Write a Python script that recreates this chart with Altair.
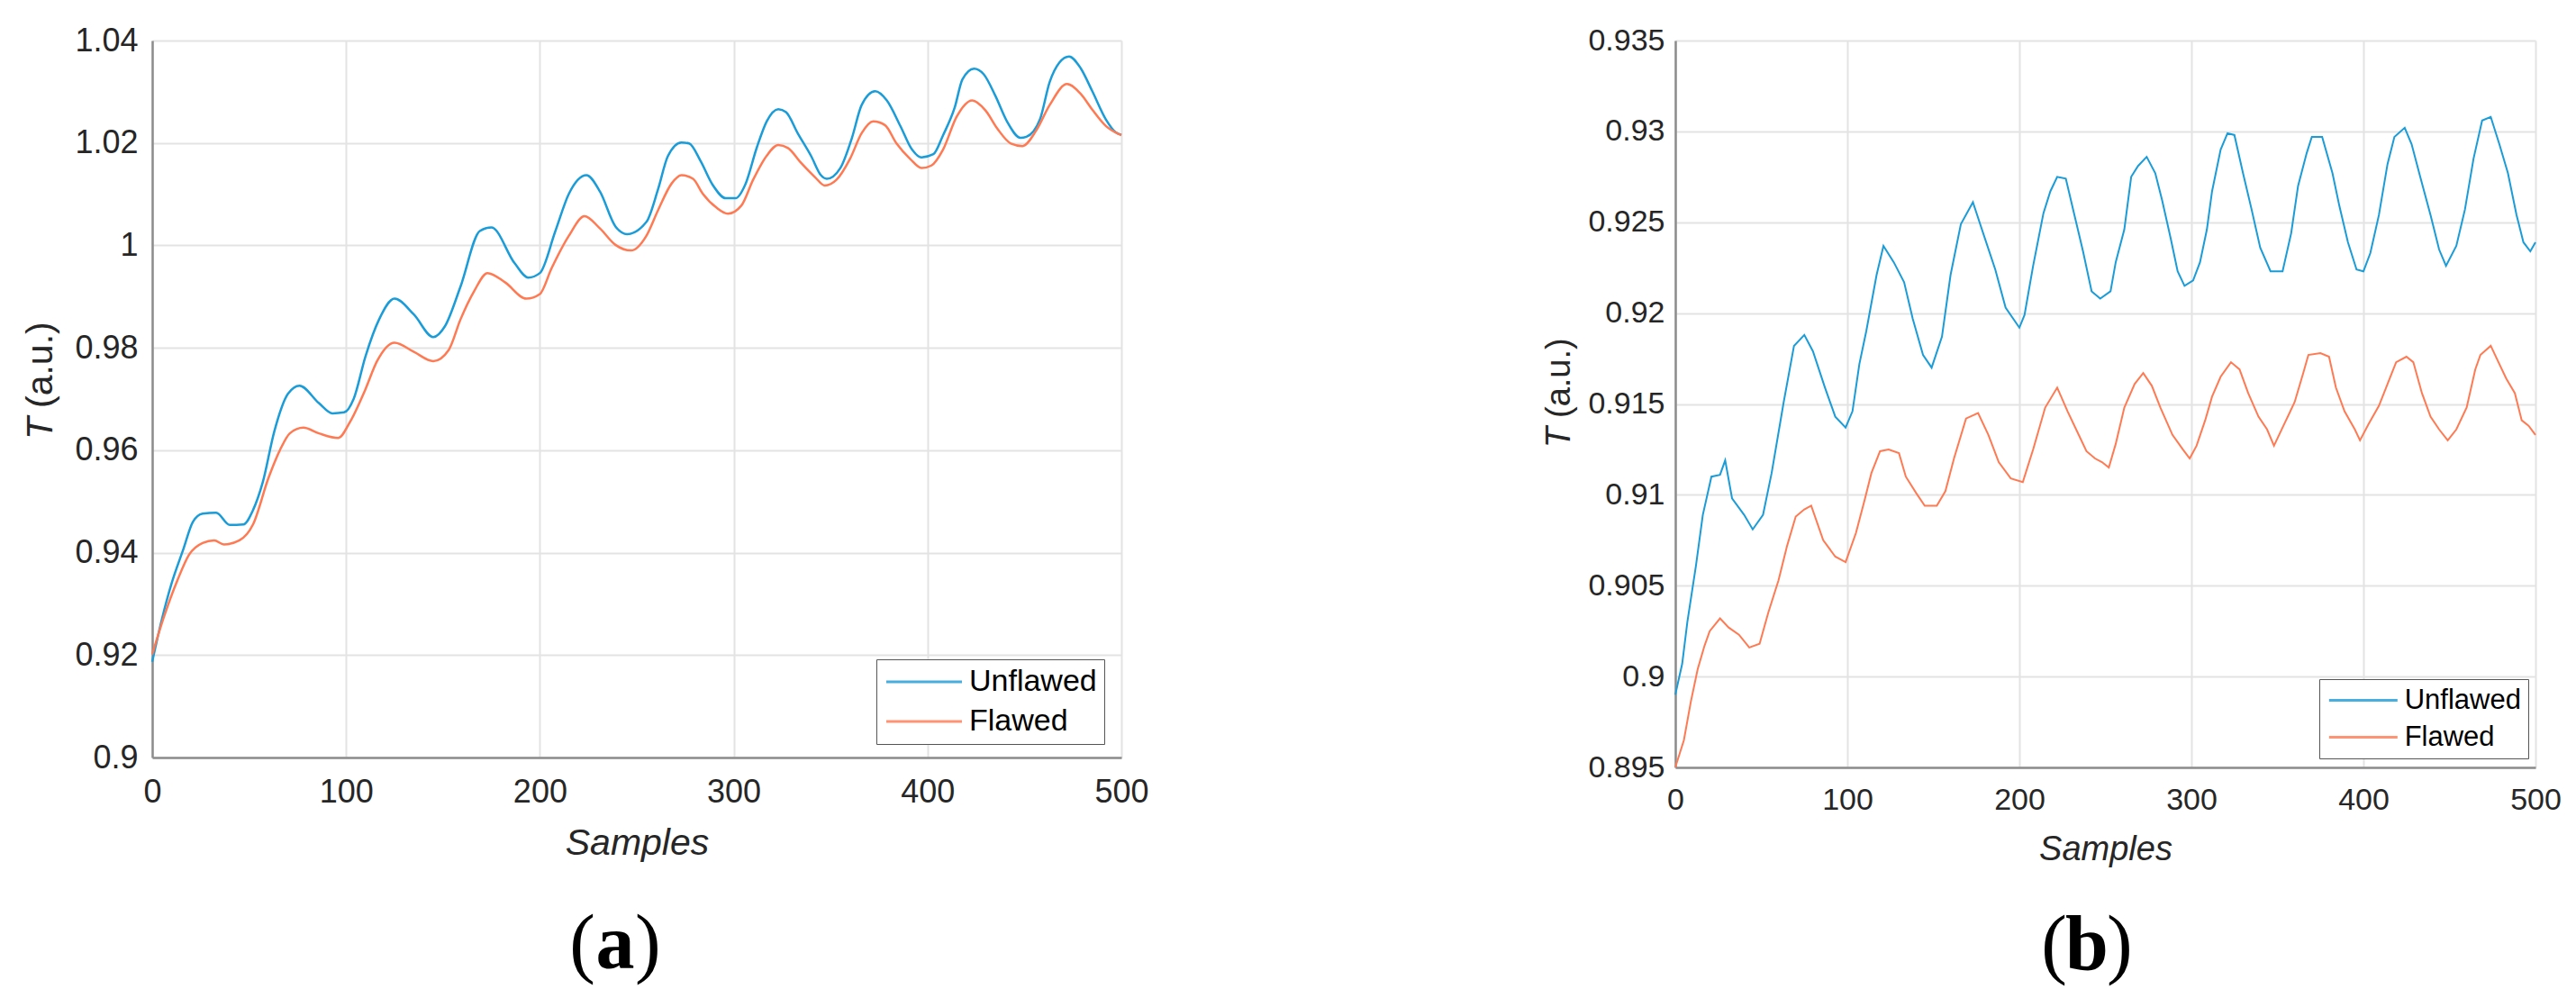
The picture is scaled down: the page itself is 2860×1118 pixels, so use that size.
import altair as alt
import pandas as pd

BLUE = "#1A9CD8"
ORANGE = "#FF7A52"
SERIES = ["Unflawed", "Flawed"]
X_TICKS = [0, 100, 200, 300, 400, 500]
A_Y_TICKS = [0.90, 0.92, 0.94, 0.96, 0.98, 1.00, 1.02, 1.04]
B_Y_TICKS = [0.895, 0.900, 0.905, 0.910, 0.915, 0.920, 0.925, 0.930, 0.935]

# panel (a)
a_unflawed = [
    (0, 0.9187), (5, 0.927), (10, 0.934), (16, 0.9406), (21, 0.946), (26, 0.9476), (33, 0.9478),
    (40, 0.9454), (47, 0.9455), (52, 0.9483), (57, 0.9537), (63, 0.9637), (70, 0.971), (76, 0.9726),
    (86, 0.9692), (93, 0.9672), (99, 0.9674), (104, 0.9701), (110, 0.9783), (117, 0.9855),
    (125, 0.9896), (135, 0.9865), (145, 0.9821), (151, 0.9842), (159, 0.9919), (169, 1.0028),
    (175, 1.0035), (187, 0.9965), (194, 0.9937), (200, 0.9946), (208, 1.0028), (215, 1.0101),
    (224, 1.0137), (231, 1.0105), (239, 1.0037), (245, 1.0022), (255, 1.0046), (261, 1.011),
    (266, 1.0174), (273, 1.0201), (277, 1.0199), (283, 1.0164), (289, 1.0119), (296, 1.0092),
    (301, 1.0092), (306, 1.0119), (312, 1.0192), (317, 1.0242), (323, 1.0266), (327, 1.026),
    (333, 1.0219), (340, 1.0174), (345, 1.0137), (348, 1.013), (355, 1.0151), (361, 1.021),
    (366, 1.0274), (373, 1.0301), (379, 1.0283), (386, 1.0233), (392, 1.0187), (397, 1.0172),
    (403, 1.0178), (408, 1.0215), (414, 1.0269), (418, 1.0324), (424, 1.0345), (429, 1.0334),
    (435, 1.0292), (441, 1.0242), (448, 1.021), (451, 1.0212), (458, 1.0246), (463, 1.0319),
    (468, 1.0357), (473, 1.0369), (479, 1.0346), (485, 1.0301), (492, 1.0246), (497, 1.0221),
    (500, 1.0216),
]
a_flawed = [
    (0, 0.9201), (6, 0.9274), (13, 0.9346), (19, 0.9396), (26, 0.9419), (32, 0.9424), (37, 0.9416),
    (45, 0.9424), (52, 0.9455), (60, 0.9546), (66, 0.9601), (71, 0.9633), (78, 0.9644), (86, 0.9633),
    (96, 0.9624), (102, 0.9655), (110, 0.9719), (116, 0.9774), (125, 0.981), (135, 0.9792),
    (145, 0.9774), (153, 0.9796), (159, 0.9855), (166, 0.991), (173, 0.9946), (182, 0.9928),
    (193, 0.9896), (200, 0.9905), (206, 0.9955), (215, 1.0019), (223, 1.0057), (231, 1.0033),
    (239, 1.0001), (247, 0.999), (255, 1.0019), (261, 1.0069), (268, 1.0121), (273, 1.0137),
    (279, 1.013), (284, 1.0101), (291, 1.0074), (297, 1.0062), (304, 1.0078), (310, 1.0128),
    (317, 1.0175), (323, 1.0196), (328, 1.019), (335, 1.016), (342, 1.0133), (347, 1.0117),
    (353, 1.0128), (360, 1.0169), (366, 1.0219), (372, 1.0242), (378, 1.0235), (384, 1.0199),
    (391, 1.0169), (397, 1.0151), (402, 1.0156), (408, 1.0187), (415, 1.0251), (423, 1.0283),
    (430, 1.0263), (436, 1.0228), (443, 1.0199), (449, 1.0194), (456, 1.0224), (463, 1.0274),
    (472, 1.0315), (479, 1.0296), (485, 1.0265), (492, 1.0233), (500, 1.0215),
]

# panel (b)
b_unflawed = [
    (0, 0.8990), (4, 0.9007), (7, 0.9030), (12, 0.9061), (16, 0.9089), (21, 0.9110), (26, 0.9111),
    (29, 0.9119), (33, 0.9098), (40, 0.9089), (45, 0.9081), (51, 0.9089), (56, 0.9112), (63, 0.9151),
    (69, 0.9182), (75, 0.9188), (80, 0.9179), (87, 0.9159), (93, 0.9143), (99, 0.9137), (103, 0.9146),
    (107, 0.9172), (111, 0.9190), (117, 0.9221), (121, 0.9237), (127, 0.9228), (133, 0.9217),
    (138, 0.9197), (144, 0.9177), (149, 0.9170), (155, 0.9187), (160, 0.9221), (166, 0.9249),
    (173, 0.9261), (180, 0.9241), (186, 0.9224), (192, 0.9203), (200, 0.9192), (203, 0.9199),
    (208, 0.9226), (214, 0.9255), (218, 0.9267), (222, 0.9275), (227, 0.9274), (232, 0.9254),
    (237, 0.9234), (242, 0.9212), (247, 0.9208), (253, 0.9212), (256, 0.9228), (261, 0.9246),
    (265, 0.9275), (269, 0.9281), (274, 0.9286), (279, 0.9277), (283, 0.9262), (288, 0.9241),
    (292, 0.9223), (296, 0.9215), (301, 0.9218), (305, 0.9228), (309, 0.9246), (312, 0.9267),
    (317, 0.9290), (321, 0.9299), (325, 0.9298), (330, 0.9277), (335, 0.9257), (340, 0.9236),
    (346, 0.9223), (353, 0.9223), (358, 0.9244), (362, 0.9270), (367, 0.9288), (370, 0.9297),
    (376, 0.9297), (382, 0.9277), (386, 0.9259), (391, 0.9239), (396, 0.9224), (400, 0.9223),
    (404, 0.9233), (409, 0.9254), (414, 0.9282), (418, 0.9297), (424, 0.9302), (428, 0.9293),
    (433, 0.9275), (439, 0.9254), (444, 0.9235), (448, 0.9226), (454, 0.9237), (459, 0.9257),
    (464, 0.9285), (469, 0.9306), (474, 0.9308), (479, 0.9293), (484, 0.9277), (489, 0.9254),
    (493, 0.9239), (497, 0.9234), (500, 0.9239),
]
b_flawed = [
    (0, 0.8950), (5, 0.8965), (9, 0.8986), (13, 0.9004), (17, 0.9017), (20, 0.9025), (26, 0.9032),
    (31, 0.9027), (37, 0.9023), (43, 0.9016), (49, 0.9018), (54, 0.9035), (60, 0.9053), (65, 0.9072),
    (70, 0.9088), (75, 0.9092), (79, 0.9094), (86, 0.9075), (93, 0.9066), (99, 0.9063), (105, 0.9079),
    (110, 0.9097), (114, 0.9112), (119, 0.9124), (124, 0.9125), (130, 0.9123), (134, 0.9110),
    (140, 0.9101), (145, 0.9094), (152, 0.9094), (157, 0.9102), (162, 0.9120), (169, 0.9142),
    (176, 0.9145), (182, 0.9133), (188, 0.9118), (195, 0.9109), (202, 0.9107), (208, 0.9125),
    (215, 0.9148), (222, 0.9159), (228, 0.9146), (234, 0.9134), (239, 0.9124), (244, 0.9120),
    (248, 0.9118), (252, 0.9115), (256, 0.9128), (261, 0.9148), (267, 0.9161), (272, 0.9167),
    (277, 0.9160), (282, 0.9148), (289, 0.9133), (295, 0.9125), (299, 0.9120), (303, 0.9127),
    (308, 0.9141), (312, 0.9154), (317, 0.9165), (323, 0.9173), (328, 0.9169), (333, 0.9156),
    (339, 0.9143), (344, 0.9136), (348, 0.9127), (354, 0.9139), (360, 0.9151), (365, 0.9167),
    (368, 0.9177), (375, 0.9178), (380, 0.9176), (384, 0.9159), (389, 0.9146), (395, 0.9136),
    (398, 0.9130), (403, 0.9139), (409, 0.9149), (414, 0.9161), (419, 0.9173), (425, 0.9176),
    (429, 0.9173), (434, 0.9156), (439, 0.9143), (444, 0.9136), (449, 0.9130), (454, 0.9136),
    (460, 0.9148), (465, 0.9169), (468, 0.9177), (474, 0.9182), (478, 0.9174), (483, 0.9164),
    (488, 0.9156), (492, 0.9141), (496, 0.9138), (500, 0.9133),
]

SANS = "Liberation Sans"
SERIF = "Liberation Serif"
DARK = "#262626"


def frame(unfl, fl):
    rows = [{"Samples": s, "T": v, "series": "Unflawed"} for s, v in unfl]
    rows += [{"Samples": s, "T": v, "series": "Flawed"} for s, v in fl]
    return pd.DataFrame(rows)


def txt(text, x, y, **kw):
    return alt.Chart(pd.DataFrame({"k": [0]})).mark_text(text=text, **kw).encode(
        x=alt.value(x), y=alt.value(y)
    )


def panel(df, w, h, ydom, yticks, tick_fs, title_fs, leg_fs, leg_x, leg_y, sym_len, row_pad,
          stroke_w, interp, ytitle_x, ytitle_y, letter, letter_x, letter_y, lab_pad_x,
          title_pad_x, lab_pad_y):
    unit = sym_len / 3.0  # symbol path spans 3 * sqrt(size)
    lines = alt.Chart(df).mark_line(strokeWidth=stroke_w, interpolate=interp).encode(
        x=alt.X(
            "Samples:Q",
            scale=alt.Scale(domain=[0, 500], nice=False),
            axis=alt.Axis(
                values=X_TICKS, format="d", title="Samples", titleFontStyle="italic",
                titleFont=SANS, titleFontSize=title_fs, titleFontWeight="normal", titleColor=DARK,
                titlePadding=title_pad_x, labelFont=SANS, labelFontSize=tick_fs, labelColor=DARK,
                labelPadding=lab_pad_x, ticks=False, tickSize=0, domainColor="#8c8c8c",
                domainWidth=2.5, gridColor="#e3e3e3", gridWidth=2, labelFlush=False,
            ),
        ),
        y=alt.Y(
            "T:Q",
            scale=alt.Scale(domain=ydom, zero=False, nice=False),
            axis=alt.Axis(
                values=yticks, format=".3~g", title=None, labelFont=SANS, labelFontSize=tick_fs,
                labelColor=DARK, labelPadding=lab_pad_y, ticks=False, tickSize=0,
                domainColor="#8c8c8c", domainWidth=2.5, gridColor="#e3e3e3", gridWidth=2,
                labelFlush=False,
            ),
        ),
        color=alt.Color(
            "series:N",
            scale=alt.Scale(domain=SERIES, range=[BLUE, ORANGE]),
            legend=alt.Legend(
                title=None, orient="none", legendX=leg_x, legendY=leg_y,
                symbolType="M-1,0H5", symbolSize=unit * unit, symbolStrokeWidth=3,
                labelFont=SANS, labelFontSize=leg_fs, labelColor="#000000",
                labelOffset=sym_len + 8 - unit - 3, padding=8, rowPadding=row_pad,
                strokeColor="#555555", fillColor="#ffffff", cornerRadius=0, symbolOpacity=0.8,
            ),
        ),
    )
    t1 = txt("T", ytitle_x, ytitle_y + 3, angle=270, align="right", baseline="middle",
             font=SANS, fontSize=title_fs, fontStyle="italic", color=DARK)
    t2 = txt("(a.u.)", ytitle_x, ytitle_y - 7, angle=270, align="left", baseline="middle",
             font=SANS, fontSize=title_fs, color=DARK)
    l1 = txt("(", letter_x - 22, letter_y, align="right", baseline="alphabetic", font=SERIF,
             fontSize=86, color="#000000")
    l2 = txt(letter, letter_x, letter_y, align="center", baseline="alphabetic", font=SERIF,
             fontSize=86, fontWeight="bold", color="#000000")
    l3 = txt(")", letter_x + 22, letter_y, align="left", baseline="alphabetic", font=SERIF,
             fontSize=86, color="#000000")
    return alt.layer(lines, t1, t2, l1, l2, l3).properties(width=w, height=h)


left = panel(frame(a_unflawed, a_flawed), 1076, 796, [0.9, 1.04], A_Y_TICKS, 36, 41, 34,
             804, 687, 84, 10, 2.5, "monotone", -123, 415, "a", 514, 1030, 21, 19, 16)
right = panel(frame(b_unflawed, b_flawed), 955, 807, [0.895, 0.935], B_Y_TICKS, 34, 38, 31,
              715, 709, 76, 9, 2, "linear", -128, 426, "b", 457, 1031, 19, 19, 12)

chart = (
    alt.hconcat(left, right, spacing=437)
    .resolve_scale(color="independent")
    .resolve_legend(color="independent")
    .properties(padding={"left": 17, "top": 19, "right": 5, "bottom": 5}, background="#ffffff")
    .configure_view(stroke=None)
)

chart.save("out.html", embed_options={"renderer": "svg", "actions": False})
